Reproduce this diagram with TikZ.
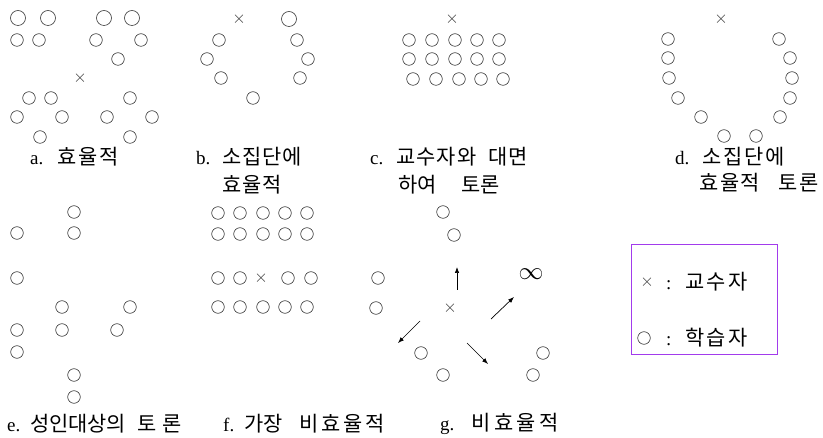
\documentclass[tikz,border=0pt]{standalone}
\usepackage{fontspec}
\setmainfont{Liberation Serif}
\newfontfamily\kr[Scale=1.1]{Noto Sans CJK KR}
\newcommand{\hg}[2]{{\kr\addfontfeature{LetterSpace=#1}#2}}
\usetikzlibrary{arrows.meta}
\definecolor{seatink}{HTML}{3A3A3A}
\definecolor{legline}{HTML}{A23BEC}

\begin{document}
\begin{tikzpicture}[x=1pt, y=-1pt,
  seat/.style={draw=seatink, line width=0.6pt},
  tchr/.style={inner sep=0pt, text=seatink, font=\fontsize{18}{18}\selectfont},
  lbl/.style={anchor=west, inner sep=0pt, font=\fontsize{19}{22}\selectfont},
  mv/.style={-{Latex[length=6pt, width=4.5pt]}, line width=0.7pt, black}
]
  \useasboundingbox (0,0) rectangle (823,438);

  % a
  \foreach \x in {18,48,104,132} \draw[seat] (\x,18) circle[radius=7.5pt];
  \foreach \x/\y in {17/40,39/40,96/40,141/40,118/59,29/98,51/98,130/98,
                     17/117,62/117,107/117,152/117,40/137,130/137}
    \draw[seat] (\x,\y) circle[radius=6.3pt];
  \node[tchr] (ta) at (80,78) {$\times$};
  \node[lbl] (la) at (30,157) {a.\hspace{14pt}\hg{8}{효율적}};

  % b
  \node[tchr] (tb) at (239,19) {$\times$};
  \draw[seat] (289,19) circle[radius=7.5pt];
  \foreach \x/\y in {219/40,297/40,207/59,308/59,221/78,300/78,253/98}
    \draw[seat] (\x,\y) circle[radius=6.3pt];
  \node[lbl] (lb1) at (196,157) {b.\hspace{12pt}\hg{4}{소집단에}};
  \node[lbl] (lb2) at (222,185) {\hg{5}{효율적}};

  % c
  \node[tchr] (tc) at (452,19) {$\times$};
  \foreach \x in {409,432,455,477,499} {
    \draw[seat] (\x,40) circle[radius=6.3pt];
    \draw[seat] (\x,59) circle[radius=6.3pt];
    \draw[seat] (\x+4,79) circle[radius=6.3pt];
  }
  \node[lbl] (lc1) at (370,157) {c.\hspace{13pt}\hg{5}{교수자와}\hspace{12pt}\hg{5}{대면}};
  \node[lbl] (lc2) at (398,185) {\hg{0}{하여}\hspace{25pt}\hg{0}{토론}};

  % d
  \node[tchr] (td) at (721,19) {$\times$};
  \foreach \x/\y in {668/39,668/58,669/78,678/98,701/117,724/136,
                     779/39,790/58,792/78,790/98,780/117,756/136}
    \draw[seat] (\x,\y) circle[radius=6.3pt];
  \node[lbl] (ld1) at (675,157) {d.\hspace{13pt}\hg{9}{소집단에}};
  \node[lbl] (ld2) at (699,183) {\hg{8}{효율적}\hspace{18pt}\hg{8}{토론}};

  % e
  \foreach \x/\y in {74/212,17/233,74/233,17/278,62/307,130/307,
                     17/330,62/330,117/330,17/352,74/375,74/397}
    \draw[seat] (\x,\y) circle[radius=6.3pt];
  \node[lbl] (le) at (7,424) {e.\hspace{10pt}\hg{-1}{성인대상의}\hspace{12pt}\hg{25}{토론}};

  % f
  \foreach \x in {218,240,263,285,307} {
    \draw[seat] (\x,213) circle[radius=6.3pt];
    \draw[seat] (\x,234) circle[radius=6.3pt];
    \draw[seat] (\x,307) circle[radius=6.3pt];
  }
  \foreach \x in {218,240,288,311} \draw[seat] (\x,278) circle[radius=6.3pt];
  \node[tchr] (tf) at (261,278) {$\times$};
  \node[lbl] (lf) at (223,424) {f.\hspace{10pt}\hg{0}{가장}\hspace{17pt}\hg{13}{비효율적}};

  % g
  \foreach \x/\y in {443/212,454/235,378/278,376/308,421/353,443/375,543/353,533/375}
    \draw[seat] (\x,\y) circle[radius=6.3pt];
  \node[tchr] (tg) at (450,308) {$\times$};
  \node[inner sep=0pt, font=\fontsize{30}{30}\selectfont] (inf) at (531,274) {$\infty$};
  \coordinate (gn0) at (457,290);  \coordinate (gn1) at (457,267);
  \coordinate (ge0) at (491,319);  \coordinate (ge1) at (514,297);
  \coordinate (gw0) at (420,321);  \coordinate (gw1) at (398,343);
  \coordinate (gs0) at (467,343);  \coordinate (gs1) at (488,364);
  \draw[mv] (gn0) -- (gn1);
  \draw[mv] (ge0) -- (ge1);
  \draw[mv] (gw0) -- (gw1);
  \draw[mv] (gs0) -- (gs1);
  \node[lbl] (lg) at (440,424) {g.\hspace{17pt}\hg{16}{비효율적}};

  % legend
  \draw[legline, line width=1pt] (631,245) rectangle (777,355);
  \node[tchr] (lx) at (647,282) {$\times$};
  \node[lbl] (lt) at (666,282) {:\hspace{14pt}\hg{10}{교수자}};
  \draw[seat] (644,338) circle[radius=6.3pt];
  \node[lbl] (ls) at (666,338) {:\hspace{14pt}\hg{10}{학습자}};
\end{tikzpicture}
\end{document}
